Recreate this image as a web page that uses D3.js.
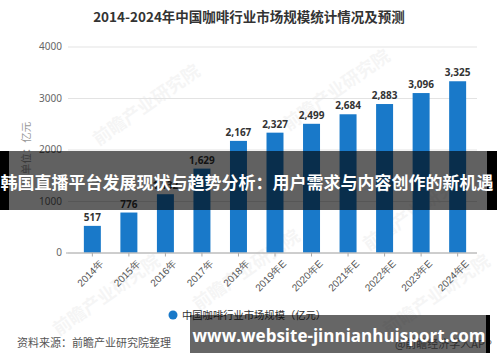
<!DOCTYPE html>
<html>
<head>
<meta charset="utf-8">
<script src="https://cdn.jsdelivr.net/npm/d3@7"></script>
<style>
  body { margin: 0; background: #fff; }
  svg { display: block; font-family: "Noto Sans CJK SC", "Noto Sans", sans-serif; }
</style>
</head>
<body>
<svg id="chart"></svg>
<script>
const years = ["2014年", "2015年", "2016年", "2017年", "2018年", "2019年E", "2020年E", "2021年E", "2022年E", "2023年E", "2024年E"];
const marketSize = [517, 776, 1132, 1629, 2167, 2327, 2499, 2684, 2883, 3096, 3325];
const yTicks = [0, 1000, 2000, 3000, 4000];

const width = 500;
const height = 362;

const svg = d3.select("#chart").attr("width", width).attr("height", height);

const xScale = d3.scaleBand().domain(years).range([74, 476]).paddingInner(0.535).paddingOuter(0.27);
const yScale = d3.scaleLinear().domain([0, 4000]).range([252.5, 46.5]);

// faint watermarks
const marks = [[150, 110], [340, 95], [250, 275], [110, 300], [440, 300], [420, 215]];
svg.append("g")
  .selectAll("text")
  .data(marks)
  .enter()
  .append("text")
  .attr("transform", (d) => `translate(${d[0]},${d[1]}) rotate(-35)`)
  .attr("text-anchor", "middle")
  .attr("font-size", 18)
  .attr("font-weight", "bold")
  .attr("fill", "#000")
  .attr("opacity", 0.035)
  .text("前瞻产业研究院");

// title
svg.append("text")
  .attr("x", 249)
  .attr("y", 22)
  .attr("text-anchor", "middle")
  .attr("font-size", 13.5)
  .attr("font-weight", "bold")
  .attr("fill", "#333")
  .text("2014-2024年中国咖啡行业市场规模统计情况及预测");

// grid + y labels
const yAxis = svg.append("g").attr("transform", "translate(68,0)")
  .call(d3.axisLeft(yScale).tickValues(yTicks).tickSize(-409).tickPadding(6).tickFormat(d3.format("d")));
yAxis.select(".domain").remove();
yAxis.selectAll(".tick line").attr("stroke", "#e3e3e3");
yAxis.selectAll(".tick text").attr("fill", "#666").attr("font-size", 10)
  .attr("font-family", "Noto Sans, sans-serif");

svg.append("text")
  .attr("transform", "translate(30,148) rotate(-90)")
  .attr("text-anchor", "middle")
  .attr("font-size", 10.5)
  .attr("fill", "#999")
  .text("单位：亿元");

// bars
svg.append("g")
  .selectAll("rect")
  .data(marketSize)
  .enter()
  .append("rect")
  .attr("x", (d, i) => xScale(years[i]))
  .attr("y", (d) => yScale(d))
  .attr("width", xScale.bandwidth())
  .attr("height", (d) => yScale(0) - yScale(d))
  .attr("fill", "#1979c9");

svg.append("g")
  .selectAll("text")
  .data(marketSize)
  .enter()
  .append("text")
  .attr("x", (d, i) => xScale(years[i]) + xScale.bandwidth() / 2)
  .attr("y", (d) => yScale(d) - 5)
  .attr("text-anchor", "middle")
  .attr("font-size", 10)
  .attr("font-weight", "bold")
  .attr("fill", "#333")
  .attr("font-family", "Noto Sans, sans-serif")
  .text((d) => d3.format(",")(d));

// x axis
const xAxis = svg.append("g").attr("transform", `translate(0,${yScale(0)})`)
  .call(d3.axisBottom(xScale).tickSize(4).tickSizeOuter(0));
xAxis.select(".domain").attr("stroke", "#aaa").attr("d", "M66,0.5H477");
xAxis.selectAll(".tick line").attr("stroke", "#aaa");
xAxis.selectAll(".tick text")
  .attr("font-size", 10)
  .attr("fill", "#555")
  .attr("text-anchor", "end")
  .attr("transform", "translate(2,2) rotate(-45)")
  .attr("dx", 0)
  .attr("dy", "0.7em");

// legend
svg.append("circle").attr("cx", 173).attr("cy", 315).attr("r", 4.5).attr("fill", "#1979c9");
svg.append("text")
  .attr("x", 182)
  .attr("y", 319)
  .attr("font-size", 10.3)
  .attr("fill", "#333")
  .text("中国咖啡行业市场规模（亿元）");

// source
svg.append("text")
  .attr("x", 17)
  .attr("y", 347)
  .attr("font-size", 11)
  .attr("fill", "#555")
  .text("资料来源：前瞻产业研究院整理");

svg.append("text")
  .attr("x", 492)
  .attr("y", 348)
  .attr("text-anchor", "end")
  .attr("font-size", 11)
  .attr("fill", "#777")
  .text("@前瞻经济学人APP");

// overlay band
svg.append("rect").attr("x", 0).attr("y", 151).attr("width", 9).attr("height", 59).attr("fill", "#000");
svg.append("rect").attr("x", 487).attr("y", 151).attr("width", 10).attr("height", 59).attr("fill", "#000");
svg.append("rect").attr("x", 9).attr("y", 151).attr("width", 478).attr("height", 59)
  .attr("fill", "#000").attr("opacity", 0.62);

svg.append("text")
  .attr("x", 247)
  .attr("y", 189)
  .attr("text-anchor", "middle")
  .attr("font-size", 17)
  .attr("font-weight", "bold")
  .attr("fill", "#fff")
  .text("韩国直播平台发展现状与趋势分析：用户需求与内容创作的新机遇");

// bottom banner
svg.append("rect").attr("x", 190).attr("y", 315).attr("width", 296).attr("height", 38).attr("fill", "#000").attr("opacity", 0.6);
svg.append("rect").attr("x", 486).attr("y", 315).attr("width", 4).attr("height", 38).attr("fill", "#000");
svg.append("text")
  .attr("x", 339)
  .attr("y", 342)
  .attr("text-anchor", "middle")
  .attr("font-size", 17)
  .attr("font-weight", "bold")
  .attr("font-family", "Open Sans, sans-serif")
  .attr("fill", "#fff")
  .text("www.website-jinnianhuisport.com");
</script>
</body>
</html>
